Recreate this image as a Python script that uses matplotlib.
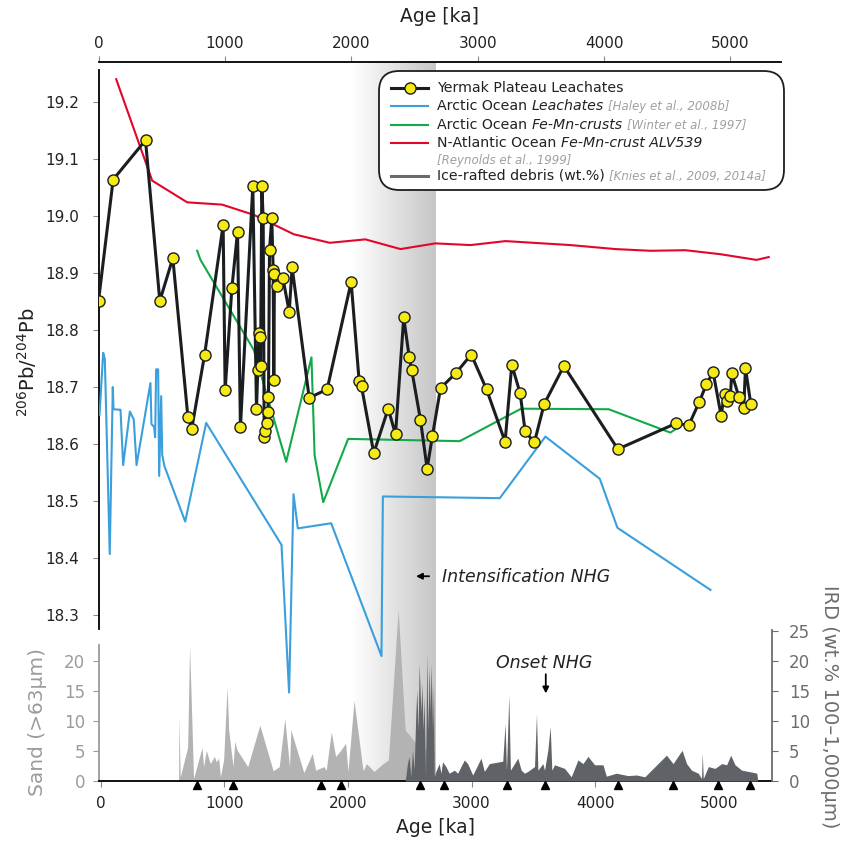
import numpy as np
import matplotlib.pyplot as plt
from matplotlib.patches import FancyBboxPatch
from matplotlib.lines import Line2D

plt.rcParams['font.family'] = 'DejaVu Sans'

# ---- Pb isotope records (age in ka, 206Pb/204Pb) ----
yermak_age = [0, 116, 372, 485, 588, 707, 738, 839, 986, 1002,
              1055, 1100, 1123, 1221, 1250, 1260, 1270, 1276, 1282, 1292,
              1303, 1311, 1321, 1334, 1340, 1345, 1353, 1371, 1382, 1387,
              1392, 1411, 1458, 1509, 1532, 1667, 1809, 1999, 2062, 2081,
              2178, 2292, 2350, 2415, 2458, 2479, 2547, 2600, 2642, 2706,
              2830, 2949, 3070, 3217, 3270, 3336, 3376, 3449, 3526, 3682,
              4109, 4567, 4670, 4752, 4810, 4863, 4926, 4953, 4971, 5000,
              5010, 5068, 5105, 5119, 5161]
yermak_pb = [18.851, 19.064, 19.133, 18.851, 18.926, 18.648, 18.627, 18.756, 18.984, 18.694,
             18.873, 18.972, 18.629, 19.053, 18.661, 18.730, 18.795, 18.787, 18.736, 19.053,
             18.996, 18.613, 18.622, 18.637, 18.657, 18.683, 18.940, 18.996, 18.905, 18.712,
             18.898, 18.877, 18.892, 18.832, 18.910, 18.681, 18.696, 18.884, 18.711, 18.701,
             18.584, 18.662, 18.617, 18.822, 18.753, 18.729, 18.643, 18.557, 18.614, 18.698,
             18.725, 18.757, 18.696, 18.604, 18.739, 18.689, 18.622, 18.603, 18.670, 18.737,
             18.591, 18.636, 18.633, 18.673, 18.705, 18.726, 18.650, 18.688, 18.675, 18.685,
             18.724, 18.682, 18.663, 18.733, 18.670]

blue_age = [8, 37, 50, 89, 113, 119, 174, 195, 248, 279,
            301, 411, 419, 440, 448, 456, 472, 480, 496, 504,
            522, 686, 852, 1448, 1508, 1543, 1577, 1841, 2239, 2250,
            3175, 3536, 3966, 4106, 4842]
blue_pb = [18.651, 18.760, 18.749, 18.407, 18.700, 18.661, 18.660, 18.563, 18.657, 18.643,
           18.563, 18.707, 18.635, 18.630, 18.612, 18.731, 18.731, 18.544, 18.684, 18.581,
           18.561, 18.464, 18.637, 18.423, 18.164, 18.512, 18.452, 18.461, 18.228, 18.508,
           18.505, 18.613, 18.539, 18.453, 18.344]

green_age = [781, 807, 1229, 1485, 1685, 1710, 1778, 1975, 2858, 3344, 4037, 4525, 4565]
green_pb = [18.939, 18.923, 18.765, 18.569, 18.752, 18.580, 18.498, 18.609, 18.605, 18.662,
            18.661, 18.620, 18.626]

red_age = [140, 425, 702, 978, 1229, 1545, 1830, 2112, 2389, 2666,
           2943, 3220, 3734, 4090, 4367, 4644, 4921, 5206, 5303]
red_pb = [19.240, 19.062, 19.024, 19.020, 19.002, 18.968, 18.953, 18.959, 18.942, 18.952,
          18.949, 18.956, 18.949, 18.942, 18.939, 18.940, 18.933, 18.923, 18.928]

# ---- sediment records (age in ka) ----
sand_age = [630, 632, 643, 670, 703, 719, 751, 784, 819, 832,
            854, 886, 919, 935, 954, 968, 994, 1022, 1035, 1070,
            1084, 1102, 1189, 1287, 1395, 1444, 1489, 1527, 1538, 1643,
            1711, 1738, 1805, 1824, 1865, 1900, 1941, 1981, 2000, 2049,
            2122, 2149, 2211, 2284, 2327, 2406, 2463, 2549, 2616, 2700, 2702]
sand_pct = [0.2, 10.8, 0.7, 2.9, 5.6, 22.5, 0.4, 2.9, 5.6, 2.4,
            5.1, 2.9, 4.1, 3.2, 3.8, 0.7, 3.5, 15.7, 8.5, 2.4,
            6.6, 5.2, 2.4, 9.3, 1.7, 2.4, 10.4, 2.4, 8.5, 1.4,
            4.6, 1.8, 2.4, 1.8, 8.2, 4.1, 5.1, 6.3, 1.6, 13.4,
            1.7, 2.9, 1.6, 2.9, 3.5, 28.5, 8.5, 6.3, 5.2, 5.0, 0]

ird_age = [2463, 2481, 2495, 2508, 2522, 2535, 2549, 2557, 2568, 2576,
           2590, 2598, 2608, 2616, 2627, 2638, 2646, 2657, 2665, 2673,
           2684, 2692, 2698, 2711, 2738, 2752, 2765, 2792, 2819, 2860,
           2887, 2941, 2968, 3009, 3076, 3103, 3144, 3252, 3271, 3282,
           3301, 3314, 3347, 3374, 3401, 3428, 3455, 3509, 3525, 3536,
           3576, 3590, 3617, 3636, 3649, 3671, 3752, 3806, 3860, 3901,
           3941, 3995, 4063, 4090, 4171, 4265, 4333, 4401, 4576, 4630,
           4685, 4703, 4739, 4779, 4833, 4860, 4866, 4874, 4915, 4969,
           5023, 5063, 5096, 5131, 5185, 5239, 5307, 5315]
ird_pct = [0, 2.9, 4.1, 0.7, 5.2, 1.8, 11.3, 15.2, 8.5, 19.6,
           11.3, 16.3, 8.5, 14.1, 0.7, 21.3, 8.5, 19.1, 11.3, 19.6,
           8.5, 16.3, 0.7, 1.6, 2.9, 1.3, 3.2, 2.4, 1.3, 1.8,
           1.3, 3.5, 2.9, 1.0, 3.8, 1.6, 2.9, 3.3, 9.6, 1.8,
           14.3, 1.8, 2.9, 3.8, 1.8, 1.3, 1.6, 2.4, 11.2, 1.8,
           2.9, 1.8, 5.2, 9.1, 1.8, 2.7, 2.1, 0.7, 3.5, 2.9,
           4.1, 2.7, 2.7, 0.8, 1.3, 0.9, 1.0, 0.7, 4.3, 2.9,
           4.6, 5.1, 2.9, 1.8, 1.3, 0.4, 4.7, 0.4, 2.4, 2.1,
           2.9, 2.7, 4.3, 2.7, 1.8, 1.6, 1.3, 0]

paleomag_age = [781, 1072, 1778, 1945, 2581, 2780, 3290, 3596, 4187, 4631, 4997, 5255]

band_start, band_end = 2030, 2705
onset_age = 3600

W, H = 843, 841


def box(x0, y0, x1, y1):
    return [x0 / W, 1 - y1 / H, (x1 - x0) / W, (y1 - y0) / H]


def fp(x, y):
    return (x / W, 1 - y / H)


fig = plt.figure(figsize=(W / 100, H / 100), dpi=100)

xlim_b = (-14, 5430)

# background gradient band
ax_bg = fig.add_axes(box(99, 62, 772, 781))
grad = np.ones((1, 256, 4))
grad[..., :3] = 0.78
grad[..., 3] = np.linspace(0, 1, 256)
ax_bg.imshow(grad, extent=[band_start, band_end, 0, 1], aspect='auto', interpolation='bilinear')
ax_bg.set_xlim(*xlim_b)
ax_bg.set_ylim(0, 1)
ax_bg.axis('off')

# ---- lower panel: sand and IRD ----
ax_b = fig.add_axes(box(99, 630, 772, 781))
ax_b.patch.set_visible(False)
ax_b.fill_between(sand_age, sand_pct, color='#b3b3b3', lw=0, zorder=2, clip_on=False)
ax_b.fill_between(ird_age, ird_pct, color='#5f6266', lw=0, zorder=3, clip_on=False)
ax_b.plot(paleomag_age, [-0.75] * len(paleomag_age), ls='none', marker='^', ms=5.5,
          color='k', clip_on=False, zorder=6)
ax_b.set_xlim(*xlim_b)
ax_b.set_ylim(0, 25.17)
for s in ['top', 'right']:
    ax_b.spines[s].set_visible(False)
ax_b.spines['left'].set_color('#9b9b9b')
ax_b.spines['left'].set_linewidth(1.3)
ax_b.spines['left'].set_bounds(0, 22.7)
ax_b.spines['bottom'].set_linewidth(1.3)
ax_b.set_yticks([0, 5, 10, 15, 20])
ax_b.tick_params(axis='y', colors='#9b9b9b', labelsize=12, length=4, pad=6)
ax_b.set_xticks([0, 1000, 2000, 3000, 4000, 5000])
ax_b.tick_params(axis='x', color='#888888', labelcolor='#222222', labelsize=11, length=4, pad=7)
ax_b.set_xlabel('Age [ka]', fontsize=13.5, color='#222222', labelpad=5)

ax_b.text(onset_age - 10, 19.7, 'Onset NHG', style='italic', fontsize=12.5,
          ha='center', va='center', color='#222222')
ax_b.annotate('', xy=(onset_age, 14.6), xytext=(onset_age, 17.8),
              arrowprops=dict(arrowstyle='-|>', color='k', lw=1.3, mutation_scale=9,
                              shrinkA=0, shrinkB=0))

ax_r = ax_b.twinx()
ax_r.set_ylim(0, 25.17)
for s in ['top', 'left', 'bottom']:
    ax_r.spines[s].set_visible(False)
ax_r.spines['right'].set_color('#6d6d6d')
ax_r.spines['right'].set_linewidth(1.3)
ax_r.set_yticks([0, 5, 10, 15, 20, 25])
ax_r.tick_params(axis='y', colors='#6d6d6d', labelsize=12, length=4, pad=8)

# ---- upper panel: Pb isotopes ----
ax = fig.add_axes(box(98.5, 62, 781, 781))
ax.patch.set_visible(False)
ax.plot(red_age, red_pb, color='#e2062b', lw=1.5, zorder=3)
ax.plot(green_age, green_pb, color='#12aa48', lw=1.5, zorder=3)
ax.plot(blue_age, blue_pb, color='#3a9fdc', lw=1.5, zorder=3)
ax.plot(yermak_age, yermak_pb, color='#1b1e21', lw=2.2, marker='o', ms=8,
        mfc='#f5ea14', mec='#1b1e21', mew=1.0, zorder=5)
ax.set_xlim(0, 5400)
ax.set_ylim(18.0088, 19.2702)
for s in ['bottom', 'right']:
    ax.spines[s].set_visible(False)
ax.spines['left'].set_bounds(18.275, 19.256)
ax.spines['left'].set_linewidth(1.3)
ax.spines['top'].set_linewidth(1.3)
ax.set_yticks(np.arange(18.3, 19.25, 0.1))
ax.set_yticklabels(['%.1f' % v for v in np.arange(18.3, 19.25, 0.1)])
ax.tick_params(axis='y', color='#888888', labelcolor='#222222', labelsize=11, length=4, pad=10)
ax.xaxis.set_ticks_position('top')
ax.xaxis.set_label_position('top')
ax.set_xticks([0, 1000, 2000, 3000, 4000, 5000])
ax.tick_params(axis='x', color='#888888', labelcolor='#222222', labelsize=11, length=4, pad=4)
ax.set_xlabel('Age [ka]', fontsize=13.5, color='#222222', labelpad=10)

ax.text(2714, 18.367, 'Intensification NHG', style='italic', fontsize=12.5,
        ha='left', va='center', color='#222222')
ax.annotate('', xy=(2512, 18.368), xytext=(2616, 18.368),
            arrowprops=dict(arrowstyle='-|>', color='k', lw=1.3, mutation_scale=9,
                            shrinkA=0, shrinkB=0))

fig.text(*fp(27, 362), r'$^{206}$Pb/$^{204}$Pb', rotation=90, fontsize=14,
         ha='center', va='center', color='#222222')
fig.text(*fp(38, 722), 'Sand (>63µm)', rotation=90, fontsize=14.5,
         ha='center', va='center', color='#9b9b9b')
fig.text(*fp(829, 707), 'IRD (wt.% 100–1,000µm)', rotation=-90, fontsize=14,
         ha='center', va='center', color='#6d6d6d')

# ---- legend drawn by hand ----
tf = fig.transFigure
lx0, ly0 = fp(379, 190)
lx1, ly1 = fp(784, 71)
ax.add_artist(FancyBboxPatch((lx0, ly0), lx1 - lx0, ly1 - ly0,
                             boxstyle='round,pad=0,rounding_size=0.024',
                             transform=tf, facecolor='white', edgecolor='#1b1e21',
                             lw=1.3, zorder=10, clip_on=False))

rows = [
    (87.7, '#1b1e21', True, [('Yermak Plateau Leachates', 'normal', 'main')]),
    (106, '#3a9fdc', False, [('Arctic Ocean', 'normal', 'main'), ('Leachates', 'italic', 'main'),
                             ('[Haley et al., 2008b]', 'italic', 'cite')]),
    (125, '#12aa48', False, [('Arctic Ocean', 'normal', 'main'), ('Fe-Mn-crusts', 'italic', 'main'),
                             ('[Winter et al., 1997]', 'italic', 'cite')]),
    (143.3, '#e2062b', False, [('N-Atlantic Ocean', 'normal', 'main'),
                               ('Fe-Mn-crust ALV539', 'italic', 'main')]),
    (160.7, None, False, [('[Reynolds et al., 1999]', 'italic', 'cite')]),
    (175.7, '#6b6b6b', False, [('Ice-rafted debris (wt.%)', 'normal', 'main'),
                               ('[Knies et al., 2009, 2014a]', 'italic', 'cite')]),
]
for y, col, marker, parts in rows:
    if col is not None:
        xa, ya = fp(391, y)
        xb, _ = fp(428, y)
        lw = 2.2 if marker or col == '#6b6b6b' else 1.5
        ln = Line2D([xa, (xa + xb) / 2, xb], [ya, ya, ya], transform=tf, color=col, lw=lw,
                    zorder=11, clip_on=False)
        if marker:
            ln.set_marker('o')
            ln.set_markevery([1])
            ln.set_markersize(8)
            ln.set_markerfacecolor('#f5ea14')
            ln.set_markeredgecolor('#1b1e21')
        ax.add_artist(ln)
    prev = None
    for txt, sty, kind in parts:
        kw = dict(fontsize=10.2 if kind == 'main' else 8.5,
                  color='#222222' if kind == 'main' else '#a0a0a0',
                  style=sty, zorder=12, annotation_clip=False)
        if prev is None:
            prev = ax.annotate(txt, xy=fp(437, y), xycoords='figure fraction',
                               ha='left', va='center', **kw)
        else:
            prev = ax.annotate(txt, xy=(1, 0), xycoords=prev, xytext=(3.2, 0),
                               textcoords='offset points', ha='left', va='bottom', **kw)

fig.savefig('out.png', dpi=100)
